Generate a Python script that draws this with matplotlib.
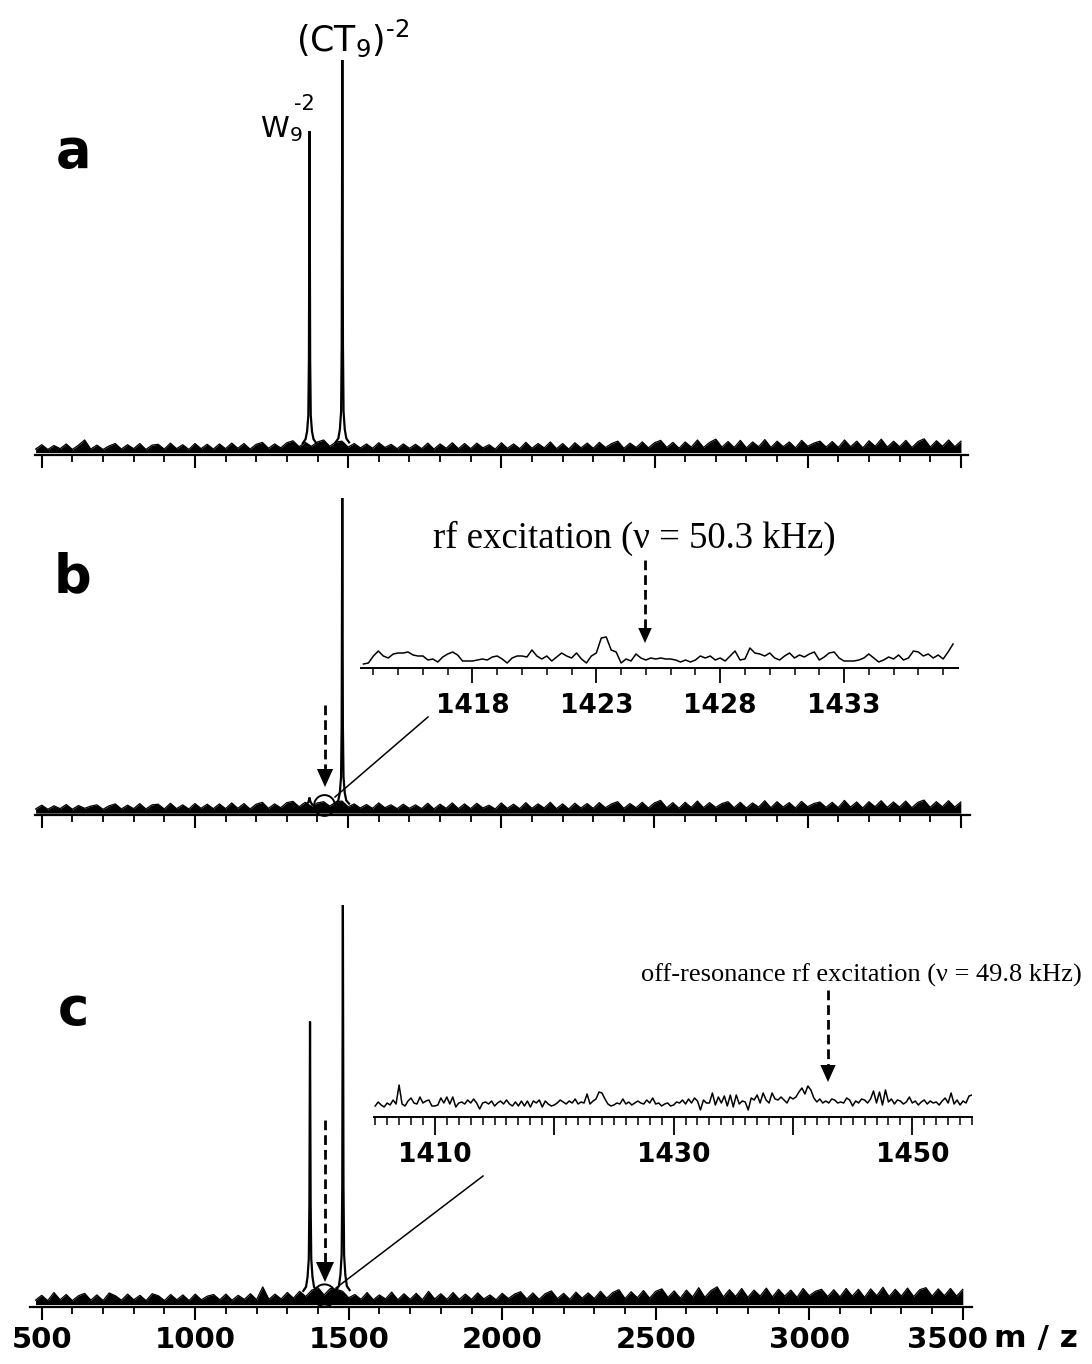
import numpy as np
import matplotlib
matplotlib.use("Agg")
import matplotlib.pyplot as plt
from matplotlib.transforms import ScaledTranslation

# ---- spectra (relative intensity, % of the (CT9)-2 peak) ----
noise_mz = np.arange(480, 3501, 20)

noise_a = [
    1.5, 2.6, 1.4, 2.4, 1.6, 2.8, 1.4, 2.5, 3.8, 1.5,
    2.5, 1.4, 2.3, 2.9, 1.5, 2.6, 1.6, 2.9, 1.4, 2.5,
    2.7, 1.5, 3.0, 1.6, 2.6, 1.4, 2.9, 1.6, 2.7, 1.5,
    2.8, 1.6, 3.0, 1.7, 2.9, 1.5, 2.7, 3.2, 1.7, 2.8,
    1.8, 3.1, 3.6, 2.1, 3.2, 2.2, 3.3, 3.8, 2.2, 3.3,
    3.5, 2.0, 2.9, 1.8, 2.8, 1.7, 3.1, 1.9, 2.7, 1.6,
    2.8, 1.7, 2.7, 1.6, 3.0, 1.5, 2.8, 1.7, 3.1, 1.6,
    2.9, 1.6, 3.0, 1.8, 2.6, 1.5, 3.1, 1.7, 2.8, 1.6,
    3.2, 1.7, 2.9, 1.8, 3.3, 1.6, 2.9, 1.5, 3.1, 1.8,
    3.0, 1.7, 3.2, 1.9, 2.9, 3.5, 1.7, 3.0, 1.9, 3.3,
    1.8, 3.1, 3.7, 1.9, 3.2, 1.7, 3.3, 2.0, 3.8, 1.9,
    3.2, 4.0, 2.0, 3.4, 1.9, 3.7, 1.8, 3.3, 2.1, 3.9,
    1.9, 3.5, 2.1, 3.3, 1.8, 3.7, 2.2, 3.0, 3.5, 2.0,
    3.4, 1.9, 3.8, 2.1, 3.5, 1.8, 3.6, 2.2, 4.0, 2.0,
    3.5, 2.1, 3.7, 1.9, 3.4, 4.1, 2.0, 3.6, 2.2, 3.8,
    2.1, 3.5,
]
noise_b = [
    1.9, 3.1, 1.8, 2.9, 2.0, 3.3, 1.8, 3.0, 2.1, 2.8,
    3.2, 1.8, 2.9, 3.5, 1.9, 3.1, 2.0, 3.6, 1.9, 3.2,
    3.4, 1.9, 3.7, 2.0, 3.2, 1.9, 3.6, 2.1, 3.4, 2.0,
    3.5, 2.0, 3.8, 2.1, 3.6, 1.9, 3.4, 4.0, 2.1, 3.5,
    2.3, 3.9, 4.3, 2.6, 4.0, 2.7, 3.8, 4.2, 2.8, 4.1,
    4.4, 2.6, 3.5, 2.2, 3.3, 2.1, 3.8, 2.3, 3.2, 2.0,
    3.4, 2.1, 3.2, 2.0, 3.7, 1.9, 3.4, 2.1, 3.8, 2.0,
    3.5, 2.0, 3.7, 2.2, 3.1, 1.9, 3.8, 2.1, 3.4, 2.0,
    3.9, 2.1, 3.5, 2.2, 4.0, 2.0, 3.5, 1.9, 3.7, 2.2,
    3.6, 2.1, 3.9, 2.3, 3.5, 4.2, 2.1, 3.6, 2.3, 4.0,
    2.2, 3.8, 4.6, 2.3, 3.9, 2.1, 4.0, 2.4, 4.4, 2.3,
    3.9, 2.4, 3.6, 4.2, 2.3, 4.0, 2.2, 3.8, 2.5, 4.5,
    2.3, 4.2, 2.5, 3.9, 2.2, 4.3, 2.6, 3.6, 4.1, 2.4,
    4.0, 2.3, 4.6, 2.5, 4.1, 2.2, 4.2, 2.6, 4.5, 2.4,
    4.1, 2.5, 4.4, 2.3, 4.0, 4.7, 2.4, 4.2, 2.6, 4.5,
    2.5, 4.1,
]
noise_c = [
    1.7, 2.9, 1.6, 3.6, 1.8, 3.1, 1.6, 2.8, 3.4, 1.7,
    3.0, 1.6, 3.5, 2.8, 1.7, 3.2, 1.8, 2.9, 1.6, 3.3,
    2.8, 1.6, 3.1, 1.8, 3.0, 1.6, 3.2, 1.8, 2.7, 3.1,
    1.8, 3.2, 1.7, 2.9, 1.9, 3.3, 1.8, 5.0, 1.9, 3.2,
    2.0, 3.6, 2.2, 3.9, 2.6, 4.2, 4.8, 3.0, 4.6, 4.4,
    3.9, 2.3, 3.1, 1.9, 3.6, 1.8, 3.0, 2.0, 3.7, 1.8,
    3.3, 1.9, 3.4, 1.8, 3.9, 2.0, 3.3, 1.9, 3.6, 1.9,
    3.2, 1.9, 3.5, 2.0, 3.0, 1.8, 3.4, 2.1, 3.2, 3.8,
    2.0, 3.5, 1.9, 3.3, 4.0, 2.1, 3.4, 1.9, 3.7, 2.2,
    3.5, 2.1, 3.9, 2.2, 3.6, 4.3, 2.1, 3.8, 2.3, 4.1,
    2.2, 3.9, 4.5, 2.4, 4.0, 2.2, 4.2, 2.5, 4.8, 2.4,
    4.1, 5.0, 2.5, 4.3, 2.6, 4.6, 2.4, 4.2, 2.7, 4.7,
    2.5, 4.4, 2.7, 4.2, 2.4, 4.6, 2.8, 3.9, 4.4, 2.6,
    4.3, 2.5, 4.6, 2.7, 4.4, 2.4, 4.5, 2.8, 4.9, 2.6,
    4.4, 2.7, 4.7, 2.6, 4.3, 4.8, 2.7, 4.5, 2.8, 4.6,
    2.7, 4.4,
]

w9_mz = [1352, 1361, 1366, 1370, 1372, 1374, 1376, 1378, 1382, 1387, 1396]
ct9_mz = [1459, 1468, 1473, 1477, 1479, 1481, 1483, 1485, 1489, 1494, 1503]
w9_a = [3.0, 4.0, 6.0, 10, 24, 82, 24, 10, 6.0, 4.0, 3.0]
ct9_a = [3.2, 4.2, 6.5, 11, 28, 100, 28, 11, 6.5, 4.2, 3.2]
w9_b_mz = [1366, 1371, 1374, 1377, 1382]
w9_b = [3.4, 4.2, 5.5, 4.2, 3.4]
ct9_b = [3.6, 4.6, 7.0, 12, 28, 100, 28, 12, 7.0, 4.6, 3.6]
w9_c = [4.0, 5.0, 7.5, 12, 26, 71, 26, 12, 7.5, 5.0, 4.0]
ct9_c = [4.2, 5.2, 8.0, 13, 30, 100, 30, 13, 8.0, 5.2, 4.2]

# zoomed traces (arbitrary units)
inset_b_mz = (1413.6, 1437.4)
inset_b = [
    4, 5, 12, 17, 12, 10, 14, 15, 15, 16, 13, 12, 12, 8, 9, 6, 11, 14, 16, 13,
    7, 7, 7, 8, 9, 8, 11, 12, 9, 5, 10, 12, 12, 11, 18, 12, 9, 12, 7, 11,
    15, 12, 10, 15, 9, 5, 12, 15, 30, 31, 18, 16, 5, 9, 7, 14, 10, 8, 10, 9,
    10, 9, 9, 8, 6, 8, 6, 8, 12, 10, 12, 8, 10, 7, 12, 17, 8, 9, 20, 15,
    14, 12, 15, 10, 8, 12, 15, 10, 13, 11, 14, 16, 8, 11, 15, 16, 10, 7, 7, 7,
    8, 10, 14, 10, 6, 8, 11, 9, 13, 8, 10, 17, 16, 12, 14, 10, 13, 9, 16, 24,
]
inset_c_mz = (1405.0, 1455.0)
inset_c = [
    11, 15, 12, 10, 14, 12, 17, 13, 32, 13, 11, 16, 19, 14, 13, 20,
    14, 16, 17, 11, 11, 12, 19, 14, 20, 13, 20, 10, 14, 15, 13, 17,
    14, 18, 14, 8, 14, 15, 13, 16, 11, 14, 16, 13, 17, 13, 11, 15,
    11, 16, 11, 16, 10, 16, 14, 17, 10, 16, 13, 11, 12, 14, 17, 15,
    13, 16, 14, 18, 13, 15, 14, 23, 13, 16, 18, 25, 24, 18, 13, 11,
    12, 14, 13, 18, 13, 15, 12, 14, 16, 14, 13, 17, 14, 19, 13, 14,
    11, 13, 14, 11, 12, 15, 14, 17, 13, 18, 14, 19, 16, 7, 17, 14,
    14, 24, 12, 20, 14, 21, 11, 22, 10, 22, 13, 16, 15, 7, 19, 17,
    22, 14, 24, 17, 14, 24, 18, 17, 20, 17, 14, 20, 18, 20, 25, 29,
    23, 31, 27, 19, 15, 18, 14, 16, 14, 18, 17, 14, 15, 14, 19, 17,
    11, 16, 14, 18, 17, 14, 18, 26, 14, 25, 12, 27, 15, 18, 13, 17,
    16, 13, 15, 20, 14, 16, 12, 15, 17, 13, 16, 14, 15, 12, 16, 19,
    14, 24, 13, 17, 12, 16, 14, 21, 22,
]

main_ticks = [500, 1000, 1500, 2000, 2500, 3000, 3500]
inset_b_ticks = [1418, 1423, 1428, 1433]
inset_c_ticks = [1410, 1420, 1430, 1440, 1450]
inset_c_labels = ["1410", "", "1430", "", "1450"]

W, H = 1092, 1364
fig = plt.figure(figsize=(W / 100, H / 100), dpi=100)
BOLD = dict(family="DejaVu Sans", weight="bold")


def px_axes(left, top, right, bottom):
    return fig.add_axes([left / W, 1 - bottom / H, (right - left) / W, (bottom - top) / H])


def bare_axis(ax, spine_lw):
    for s in ("top", "left", "right"):
        ax.spines[s].set_visible(False)
    ax.spines["bottom"].set_linewidth(spine_lw)
    ax.set_yticks([])
    ax.patch.set_alpha(0)


def spectrum(ax, xlim, noise, peaks, show_labels=False):
    ax.fill_between(noise_mz, 0.6, noise, color="k", lw=0)
    ax.plot(noise_mz, noise, color="k", lw=0.9)
    for mz, inten in peaks:
        ax.plot(mz, inten, color="k", lw=1.6, solid_joinstyle="miter")
    ax.set_xlim(*xlim)
    ax.set_ylim(0, 100)
    bare_axis(ax, 1.6)
    ax.set_xticks(main_ticks)
    ax.set_xticks(np.arange(500, 3501, 100), minor=True)
    ax.tick_params(axis="x", which="major", length=9, width=1.5, direction="out", pad=5)
    ax.tick_params(axis="x", which="minor", length=5, width=1.3, direction="out")
    if show_labels:
        ax.set_xticklabels([str(t) for t in main_ticks], fontsize=21, **BOLD)
        # the last label sits a little left to leave room for the unit
        last = ax.get_xticklabels()[-1]
        last.set_transform(last.get_transform() + ScaledTranslation(-0.15, 0, fig.dpi_scale_trans))
    else:
        ax.set_xticklabels([])


# panel a
ax_a = px_axes(35, 60, 968, 455)
spectrum(ax_a, (478, 3523), noise_a, [(w9_mz, w9_a), (ct9_mz, ct9_a)])
ax_a.annotate("$(\\mathrm{CT}_9)^{\u2010 2}$", xy=(1481, 100), xytext=(10, 1),
              textcoords="offset pixels", ha="center", va="bottom", fontsize=25)
ax_a.annotate("$\\mathrm{W}_9$", xy=(1374, 82), xytext=(-7, -13),
              textcoords="offset pixels", ha="right", va="bottom", fontsize=21)
ax_a.annotate("\u20102", xy=(1374, 82), xytext=(-16, 37),
              textcoords="offset pixels", ha="left", va="top", fontsize=15)

# panel b
ax_b = px_axes(35, 498, 970, 815)
spectrum(ax_b, (478, 3530), noise_b, [(w9_b_mz, w9_b), (ct9_mz, ct9_b)])

# panel c
ax_c = px_axes(30, 905, 972, 1307)
spectrum(ax_c, (462, 3530), noise_c, [(w9_mz, w9_c), (ct9_mz, ct9_c)], show_labels=True)

# zoomed trace for b
ax_ib = px_axes(361, 608, 958, 668)
ax_ib.plot(np.linspace(*inset_b_mz, len(inset_b)), inset_b, color="k", lw=1.1)
ax_ib.set_xlim(1413.5, 1437.6)
ax_ib.set_ylim(0, 60)
bare_axis(ax_ib, 1.4)
ax_ib.set_xticks(inset_b_ticks)
ax_ib.set_xticks(np.arange(1414, 1438), minor=True)
ax_ib.set_xticklabels([str(t) for t in inset_b_ticks], fontsize=19, **BOLD)
ax_ib.tick_params(axis="x", which="major", length=11, width=1.3, direction="out", pad=7)
ax_ib.tick_params(axis="x", which="minor", length=5, width=1.1, direction="out")

# zoomed trace for c
ax_ic = px_axes(374, 1067, 972, 1117)
ax_ic.plot(np.linspace(*inset_c_mz, len(inset_c)), inset_c, color="k", lw=1.1)
ax_ic.set_xlim(1404.9, 1455.0)
ax_ic.set_ylim(0, 50)
bare_axis(ax_ic, 1.4)
ax_ic.set_xticks(inset_c_ticks)
ax_ic.set_xticks(np.arange(1405, 1456), minor=True)
ax_ic.set_xticklabels(inset_c_labels, fontsize=19, **BOLD)
ax_ic.tick_params(axis="x", which="major", length=13, width=1.3, direction="out", pad=5)
ax_ic.tick_params(axis="x", which="minor", length=6, width=1.1, direction="out")

# overlay in pixel coordinates for the annotations
ov = fig.add_axes([0, 0, 1, 1], zorder=10)
ov.set_xlim(0, W)
ov.set_ylim(H, 0)
ov.axis("off")

for letter, y in (("a", 152), ("b", 577), ("c", 1010)):
    ov.text(73, y, letter, ha="center", va="center", fontsize=38, **BOLD)

ov.text(1036, 1339, "m / z", ha="center", va="center", fontsize=22.5, **BOLD)

SERIF = dict(family="Liberation Serif")
ov.text(634, 538, "rf excitation (\u03bd = 50.3 kHz)", ha="center", va="center", fontsize=26.5, **SERIF)
ov.text(861, 975, "off-resonance rf excitation (\u03bd = 49.8 kHz)", ha="center", va="center",
        fontsize=19, **SERIF)


def dashed_arrow(x, y0, y1, head=16):
    ov.plot([x, x], [y0, y1 - head + 2], color="k", lw=2.0, ls=(0, (3.5, 1.8)))
    ov.fill([x - head * 0.45, x + head * 0.45, x], [y1 - head, y1 - head, y1], color="k", lw=0)


dashed_arrow(645, 560, 643, head=15)
dashed_arrow(828, 990, 1082, head=17)
dashed_arrow(325, 705, 787, head=18)
dashed_arrow(325, 1120, 1282, head=20)

# circled region and connector lines
ov.plot(324, 805, marker="o", ms=15, mfc="none", mec="k", mew=1.4)
ov.plot(324, 1295, marker="o", ms=16, mfc="none", mec="k", mew=1.4)
ov.plot([335, 428], [797, 717], color="k", lw=1.1)
ov.plot([336, 483], [1288, 1176], color="k", lw=1.1)

fig.savefig("out.png", dpi=100, facecolor="white")
